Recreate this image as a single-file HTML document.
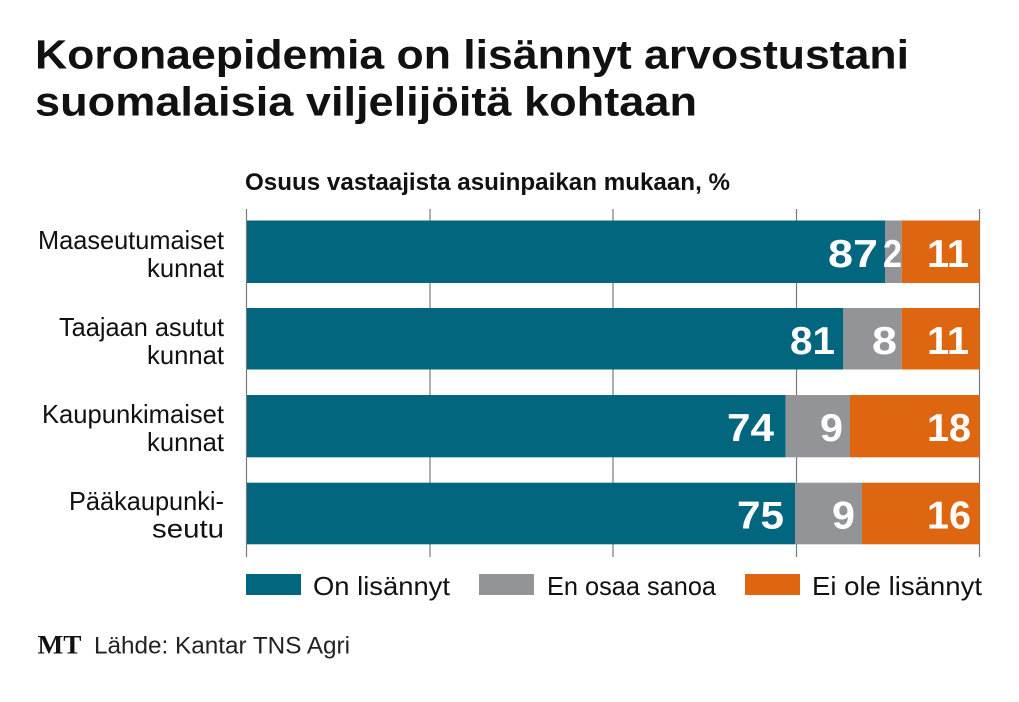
<!DOCTYPE html>
<html>
<head>
<meta charset="utf-8">
<style>
  html,body{margin:0;padding:0;background:#fff;}
  svg{display:block;}
  text{font-family:"Liberation Sans",sans-serif;}
</style>
</head>
<body>
<svg width="1019" height="702" viewBox="0 0 1019 702" xmlns="http://www.w3.org/2000/svg">
  <rect x="0" y="0" width="1019" height="702" fill="#ffffff"/>

  <!-- Title -->
  <text x="35" y="68.5" font-size="41" font-weight="bold" fill="#111" textLength="874" lengthAdjust="spacingAndGlyphs">Koronaepidemia on lisännyt arvostustani</text>
  <text x="35" y="115.5" font-size="41" font-weight="bold" fill="#111" textLength="662" lengthAdjust="spacingAndGlyphs">suomalaisia viljelijöitä kohtaan</text>

  <!-- Subtitle -->
  <text x="245" y="190" font-size="24" font-weight="bold" fill="#111" textLength="485" lengthAdjust="spacingAndGlyphs">Osuus vastaajista asuinpaikan mukaan, %</text>

  <!-- Grid / ticks -->
  <g stroke="#7a7a7a" stroke-width="1.2">
    <line x1="246.5" y1="209" x2="246.5" y2="557"/>
    <line x1="430" y1="209" x2="430" y2="557"/>
    <line x1="613" y1="209" x2="613" y2="557"/>
    <line x1="796.5" y1="209" x2="796.5" y2="557"/>
    <line x1="979.5" y1="209" x2="979.5" y2="557"/>
  </g>

  <!-- Bars -->
  <g>
    <rect x="247" y="220.5" width="638" height="62.5" fill="#02667f"/>
    <rect x="885" y="220.5" width="16.7" height="62.5" fill="#939497"/>
    <rect x="901.7" y="220.5" width="78" height="62.5" fill="#de6610"/>

    <rect x="247" y="308" width="596.3" height="61.5" fill="#02667f"/>
    <rect x="843.3" y="308" width="58.4" height="61.5" fill="#939497"/>
    <rect x="901.7" y="308" width="78" height="61.5" fill="#de6610"/>

    <rect x="247" y="395" width="538.7" height="62.3" fill="#02667f"/>
    <rect x="785.7" y="395" width="64.3" height="62.3" fill="#939497"/>
    <rect x="850" y="395" width="129.7" height="62.3" fill="#de6610"/>

    <rect x="247" y="482.7" width="548" height="61.6" fill="#02667f"/>
    <rect x="795" y="482.7" width="67" height="61.6" fill="#939497"/>
    <rect x="862" y="482.7" width="117.7" height="61.6" fill="#de6610"/>
  </g>

  <!-- Value labels -->
  <g font-size="39" font-weight="bold" fill="#ffffff" text-anchor="end">
    <text x="878" y="267" textLength="50" lengthAdjust="spacingAndGlyphs">87</text>
    <text x="902" y="267" textLength="19" lengthAdjust="spacingAndGlyphs">2</text>
    <text x="969" y="267" textLength="42" lengthAdjust="spacingAndGlyphs">11</text>

    <text x="835" y="354" textLength="45" lengthAdjust="spacingAndGlyphs">81</text>
    <text x="897" y="354" textLength="25" lengthAdjust="spacingAndGlyphs">8</text>
    <text x="969" y="354" textLength="42" lengthAdjust="spacingAndGlyphs">11</text>

    <text x="774" y="441" textLength="47" lengthAdjust="spacingAndGlyphs">74</text>
    <text x="843" y="441" textLength="23" lengthAdjust="spacingAndGlyphs">9</text>
    <text x="971" y="441" textLength="44" lengthAdjust="spacingAndGlyphs">18</text>

    <text x="784" y="528.5" textLength="47" lengthAdjust="spacingAndGlyphs">75</text>
    <text x="855" y="528.5" textLength="23" lengthAdjust="spacingAndGlyphs">9</text>
    <text x="971" y="528.5" textLength="44" lengthAdjust="spacingAndGlyphs">16</text>
  </g>

  <!-- Category labels -->
  <g font-size="26" fill="#111">
    <text x="38" y="249" textLength="186" lengthAdjust="spacingAndGlyphs">Maaseutumaiset</text>
    <text x="147" y="277" textLength="77" lengthAdjust="spacingAndGlyphs">kunnat</text>
    <text x="59" y="336" textLength="165" lengthAdjust="spacingAndGlyphs">Taajaan asutut</text>
    <text x="147" y="364" textLength="77" lengthAdjust="spacingAndGlyphs">kunnat</text>
    <text x="42" y="423" textLength="182" lengthAdjust="spacingAndGlyphs">Kaupunkimaiset</text>
    <text x="147" y="451" textLength="77" lengthAdjust="spacingAndGlyphs">kunnat</text>
    <text x="69" y="510" textLength="155" lengthAdjust="spacingAndGlyphs">Pääkaupunki-</text>
    <text x="152" y="537.5" textLength="72" lengthAdjust="spacingAndGlyphs">seutu</text>
  </g>

  <!-- Legend -->
  <rect x="246" y="574" width="55" height="21" fill="#02667f"/>
  <text x="313" y="595" font-size="26" fill="#111" textLength="137" lengthAdjust="spacingAndGlyphs">On lisännyt</text>
  <rect x="479" y="574" width="55" height="21" fill="#939497"/>
  <text x="547" y="595" font-size="26" fill="#111" textLength="169" lengthAdjust="spacingAndGlyphs">En osaa sanoa</text>
  <rect x="745" y="574" width="55" height="21" fill="#de6610"/>
  <text x="812" y="595" font-size="26" fill="#111" textLength="170" lengthAdjust="spacingAndGlyphs">Ei ole lisännyt</text>

  <!-- Footer -->
  <text x="37.5" y="653.5" font-size="26" font-weight="bold" fill="#111" textLength="44" lengthAdjust="spacingAndGlyphs" style="font-family:'Liberation Serif',serif">MT</text>
  <text x="94" y="653.5" font-size="24" fill="#222" textLength="256" lengthAdjust="spacingAndGlyphs">Lähde: Kantar TNS Agri</text>
</svg>
</body>
</html>
